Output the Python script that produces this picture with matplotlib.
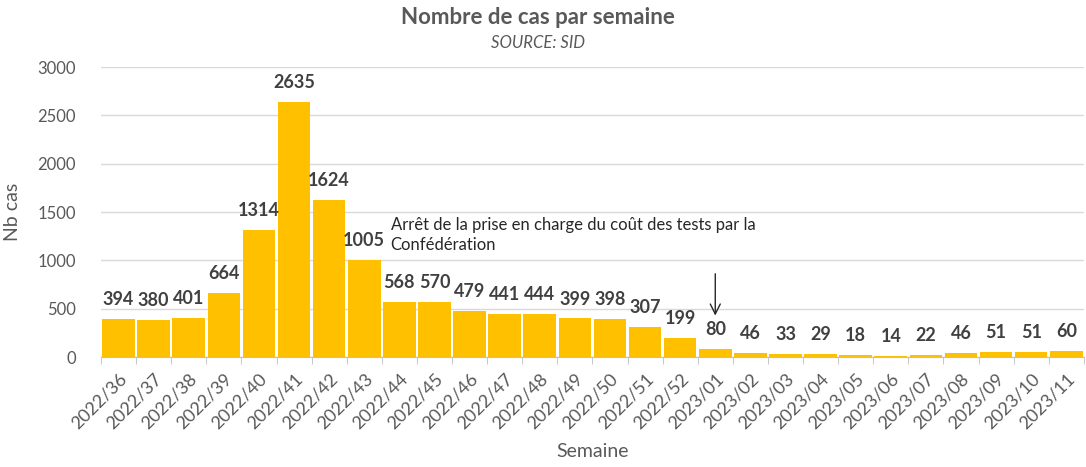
import matplotlib
matplotlib.use("Agg")
import matplotlib.pyplot as plt
import numpy as np

plt.rcParams['font.family'] = ['Lato', 'DejaVu Sans']

semaines = ["2022/36", "2022/37", "2022/38", "2022/39", "2022/40", "2022/41",
            "2022/42", "2022/43", "2022/44", "2022/45", "2022/46", "2022/47",
            "2022/48", "2022/49", "2022/50", "2022/51", "2022/52",
            "2023/01", "2023/02", "2023/03", "2023/04", "2023/05", "2023/06",
            "2023/07", "2023/08", "2023/09", "2023/10", "2023/11"]
nb_cas = [394, 380, 401, 664, 1314, 2635, 1624, 1005, 568, 570, 479, 441,
          444, 399, 398, 307, 199, 80, 46, 33, 29, 18, 14, 22, 46, 51, 51, 60]

texte_gris = "#595959"
label_gris = "#404040"

fig = plt.figure(figsize=(10.86, 4.67), dpi=100)
ax = fig.add_axes([0.093, 0.2355, 0.905, 0.621])

x = np.arange(len(semaines))
ax.bar(x, nb_cas, width=0.93, color="#FFC000", zorder=2)

for xi, v in zip(x, nb_cas):
    ax.annotate(str(v), (xi, v), xytext=(0, 14), textcoords="offset points",
                ha="center", va="center", fontsize=13, fontweight="bold",
                color=label_gris)

ax.set_xlim(-0.5, len(semaines) - 0.5)
ax.set_ylim(0, 3000)
ax.set_yticks(range(0, 3001, 500))
ax.yaxis.grid(True, color="#d9d9d9", lw=1, zorder=0)
ax.tick_params(axis="y", length=0, labelsize=12, labelcolor=texte_gris, pad=18)

ax.set_xticks(x)
ax.set_xticklabels(semaines, rotation=45, ha="right", rotation_mode="anchor",
                   fontsize=13, color=texte_gris)
ax.set_xticks(np.arange(-0.5, len(semaines), 1), minor=True)
ax.tick_params(axis="x", which="major", length=0, pad=10)
ax.tick_params(axis="x", which="minor", length=5, color="#bfbfbf")

for s in ["top", "right", "left"]:
    ax.spines[s].set_visible(False)
ax.spines["bottom"].set_color("#bfbfbf")

ax.set_ylabel("Nb cas", fontsize=14, color=texte_gris, labelpad=12)
ax.set_xlabel("Semaine", fontsize=14, color=texte_gris, labelpad=8)

fig.text(0.495, 0.962, "Nombre de cas par semaine", ha="center", va="center",
         fontsize=16, fontweight="bold", color=texte_gris)
fig.text(0.495, 0.908, "SOURCE: SID", ha="center", va="center",
         fontsize=12, style="italic", color=texte_gris)

ax.text(7.75, 1260, "Arrêt de la prise en charge du coût des tests par la\nConfédération",
        ha="left", va="center", fontsize=12, color="#262626", linespacing=1.3)
ax.annotate("", xy=(17, 400), xytext=(17, 890),
            arrowprops=dict(arrowstyle="->", color="#262626", lw=1,
                            mutation_scale=18))

fig.savefig("out.png", dpi=100)
